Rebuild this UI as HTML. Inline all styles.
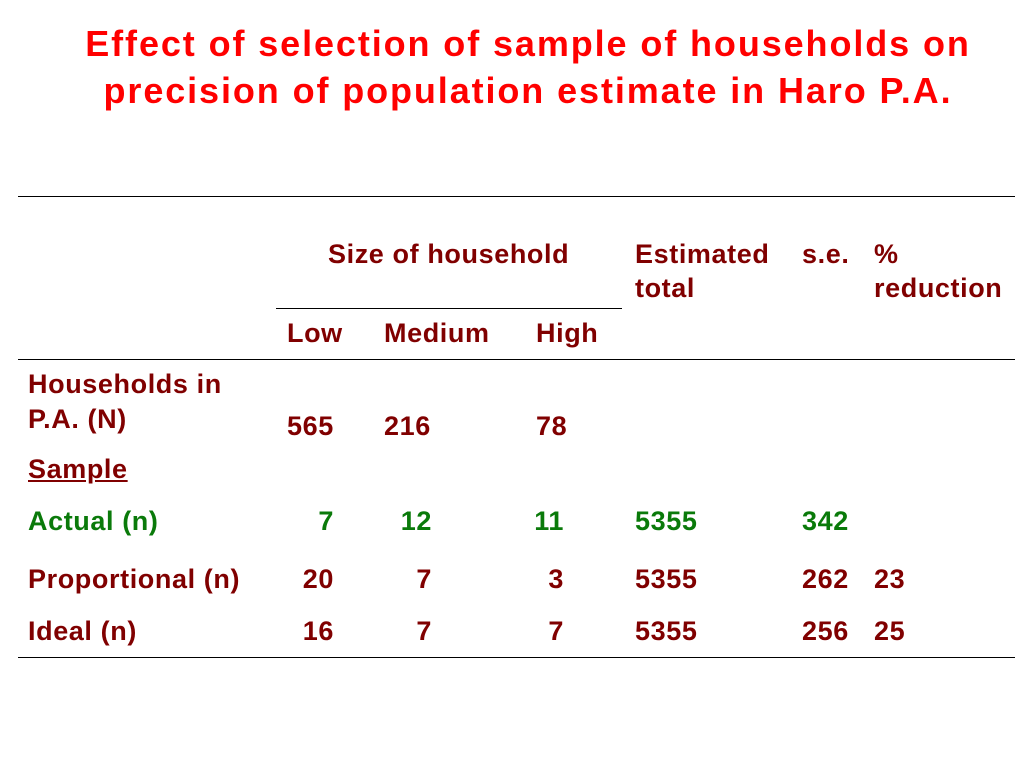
<!DOCTYPE html>
<html><head><meta charset="utf-8"><style>
body{margin:0;width:1024px;height:768px;background:#fff;position:relative;overflow:hidden;font-family:"Liberation Sans",sans-serif;}
.t{position:absolute;font-size:27px;font-weight:bold;line-height:27px;letter-spacing:0.6px;color:#800000;white-space:nowrap;margin-top:2px;}
.g{color:#0a7a0a;}
.r{text-align:right;width:60px;}
.title{position:absolute;left:0;width:1056px;text-align:center;font-size:36px;letter-spacing:1.9px;font-weight:bold;color:#ff0000;line-height:47px;top:20px;}
.ln{position:absolute;height:0;border-top:1.5px solid #000;}
</style></head><body>
<div class="title">Effect of selection of sample of households on<br>precision of population estimate in Haro P.A.</div>
<div class="ln" style="left:18px;width:997px;top:196px"></div>
<div class="ln" style="left:276px;width:346px;top:308px"></div>
<div class="ln" style="left:18px;width:997px;top:359px"></div>
<div class="ln" style="left:18px;width:997px;top:657px"></div>

<div class="t" style="left:328px;top:239px">Size of household</div>
<div class="t" style="left:635px;line-height:34px;top:235px">Estimated<br>total</div>
<div class="t" style="left:802px;top:239px">s.e.</div>
<div class="t" style="left:874px;top:235px;line-height:34px">%<br>reduction</div>
<div class="t" style="left:287px;top:318px">Low</div>
<div class="t" style="left:384px;top:318px">Medium</div>
<div class="t" style="left:536px;top:318px">High</div>

<div class="t" style="left:28px;line-height:35px;top:365px">Households in<br>P.A. (N)</div>
<div class="t" style="left:287px;top:411px">565</div>
<div class="t" style="left:384px;top:411px">216</div>
<div class="t" style="left:536px;top:411px">78</div>
<div class="t" style="left:28px;top:454px;text-decoration:underline">Sample</div>

<div class="t g" style="left:28px;top:506px">Actual (n)</div>
<div class="t g r" style="left:274px;top:506px">7</div>
<div class="t g r" style="left:372px;top:506px">12</div>
<div class="t g r" style="left:504px;top:506px">11</div>
<div class="t g" style="left:635px;top:506px">5355</div>
<div class="t g" style="left:802px;top:506px">342</div>

<div class="t" style="left:28px;top:564px">Proportional (n)</div>
<div class="t r" style="left:274px;top:564px">20</div>
<div class="t r" style="left:372px;top:564px">7</div>
<div class="t r" style="left:504px;top:564px">3</div>
<div class="t" style="left:635px;top:564px">5355</div>
<div class="t" style="left:802px;top:564px">262</div>
<div class="t" style="left:874px;top:564px">23</div>

<div class="t" style="left:28px;top:616px">Ideal (n)</div>
<div class="t r" style="left:274px;top:616px">16</div>
<div class="t r" style="left:372px;top:616px">7</div>
<div class="t r" style="left:504px;top:616px">7</div>
<div class="t" style="left:635px;top:616px">5355</div>
<div class="t" style="left:802px;top:616px">256</div>
<div class="t" style="left:874px;top:616px">25</div>
</body></html>
